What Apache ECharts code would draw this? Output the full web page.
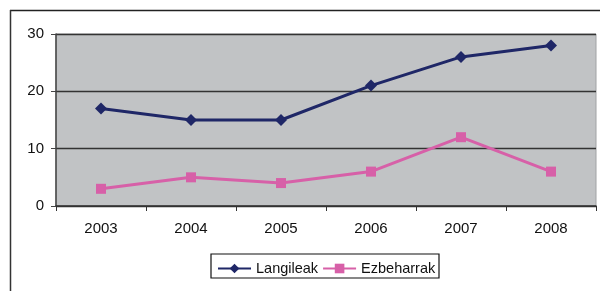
<!DOCTYPE html>
<html><head><meta charset="utf-8">
<script src="https://cdn.jsdelivr.net/npm/echarts@6/dist/echarts.min.js"></script>
<style>html,body{margin:0;padding:0;background:#fff}#c{width:600px;height:291px}</style>
</head><body><div id="c"></div>
<script>
const categories = ['2003','2004','2005','2006','2007','2008'];
const langileak = [17, 15, 15, 21, 26, 28];
const ezbeharrak = [3, 5, 4, 6, 12, 6];
const yTicks = [0, 10, 20, 30];

const chart = echarts.init(document.getElementById('c'), null, {renderer:'canvas'});
const font = 'Liberation Sans, Arial, sans-serif';
chart.setOption({
  animation:false,
  backgroundColor:'#ffffff',
  graphic:[
    {type:'line', shape:{x1:10,y1:10.5,x2:600,y2:10.5}, style:{stroke:'#222',lineWidth:1.5}, z:10},
    {type:'line', shape:{x1:10.5,y1:10,x2:10.5,y2:291}, style:{stroke:'#333',lineWidth:1.5}, z:10},
    {type:'rect', shape:{x:211,y:254,width:228,height:24}, style:{fill:'#fff',stroke:'#111',lineWidth:1.2}, z:0}
  ],
  grid:{left:56, right:4, top:34, bottom:85, show:true, backgroundColor:'#c1c3c5', borderColor:'#a0a2a4', borderWidth:1},
  legend:{
    left:212, top:256, itemGap:4, itemWidth:33, itemHeight:12,
    textStyle:{fontFamily:font,fontSize:14.5,color:'#111'},
    data:['Langileak','Ezbeharrak']
  },
  xAxis:{
    type:'category', data:categories, boundaryGap:true,
    axisLine:{lineStyle:{color:'#333',width:1.5}},
    axisTick:{show:true,length:5,lineStyle:{color:'#333'}},
    axisLabel:{fontFamily:font,fontSize:15,color:'#111',margin:15}
  },
  yAxis:{
    type:'value', min:yTicks[0], max:yTicks[yTicks.length-1], interval:10,
    axisLine:{show:true,lineStyle:{color:'#444',width:1.5}},
    axisTick:{show:true,length:5,inside:false,lineStyle:{color:'#444'}},
    axisLabel:{fontFamily:font,fontSize:15,color:'#111',margin:12},
    splitLine:{show:true,lineStyle:{color:'#333',width:1.3}}
  },
  series:[
    {name:'Langileak', type:'line', data:langileak, symbol:'diamond', symbolSize:12,
     lineStyle:{color:'#1f2767',width:3}, itemStyle:{color:'#1f2767'}},
    {name:'Ezbeharrak', type:'line', data:ezbeharrak, symbol:'rect', symbolSize:10,
     lineStyle:{color:'#d760a8',width:3}, itemStyle:{color:'#d760a8'}}
  ]
});
</script></body></html>
